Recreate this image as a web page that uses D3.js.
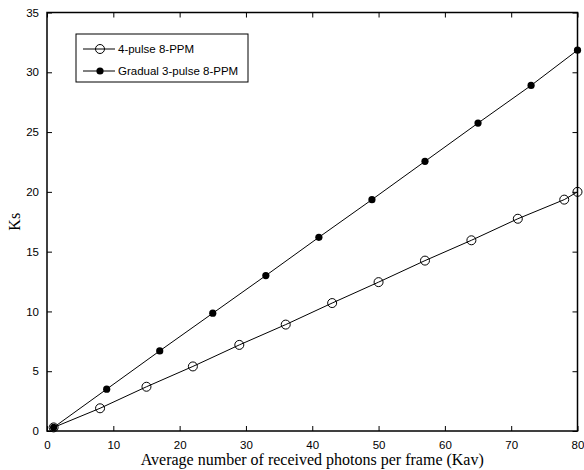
<!DOCTYPE html>
<html>
<head>
<meta charset="utf-8">
<script src="https://cdn.jsdelivr.net/npm/d3@7"></script>
<style>
  body { margin: 0; background: #fff; }
  svg { display: block; }
</style>
</head>
<body>
<div class="chart"></div>
<script>
// data

var openX = [1, 8, 15, 22, 29, 36, 43, 50, 57, 64, 71, 78, 80];
var openY = [0.3, 1.9, 3.7, 5.4, 7.2, 8.9, 10.7, 12.45, 14.25, 15.95, 17.75, 19.35, 20.0];

var filledX = [1, 9, 17, 25, 33, 41, 49, 57, 65, 73, 80];
var filledY = [0.3, 3.5, 6.7, 9.85, 13.0, 16.2, 19.35, 22.55, 25.75, 28.9, 31.85];

var xTicks = [0, 10, 20, 30, 40, 50, 60, 70, 80];
var yTicks = [0, 5, 10, 15, 20, 25, 30, 35];

var seriesNames = ['4-pulse 8-PPM', 'Gradual 3-pulse 8-PPM'];

// LAYOUT

var width = 584, height = 470;
var margin = {top: 12.5, right: 6.5, bottom: 39, left: 47};
var innerW = width - margin.left - margin.right;
var innerH = height - margin.top - margin.bottom;

var svg = d3.select('.chart')
  .append('svg')
  .attr('width', width)
  .attr('height', height);

var g = svg.append('g')
  .attr('transform', 'translate(' + margin.left + ',' + margin.top + ')');

var x = d3.scaleLinear().domain([0, 80]).range([0, innerW]);
var y = d3.scaleLinear().domain([0, 35]).range([innerH, 0]);

// AXES (ticks point inward, mirrored on top and right)

var tickFont = '"Liberation Sans", Arial, sans-serif';

var styleAxis = function(sel){
  sel.select('.domain').remove();
  sel.selectAll('line').attr('stroke', '#000').attr('stroke-width', 1);
  sel.selectAll('text')
    .style('font-family', tickFont)
    .style('font-size', '11.5px')
    .attr('fill', '#000');
}

g.append('g')
  .attr('transform', 'translate(0,' + innerH + ')')
  .call(d3.axisBottom(x).tickValues(xTicks).tickSize(-5).tickPadding(10).tickFormat(d3.format('d')))
  .call(styleAxis);

g.append('g')
  .call(d3.axisLeft(y).tickValues(yTicks).tickSize(-5).tickPadding(8).tickFormat(d3.format('d')))
  .call(styleAxis);

g.append('g')
  .call(d3.axisTop(x).tickValues(xTicks).tickSize(-5).tickFormat(''))
  .call(styleAxis);

g.append('g')
  .attr('transform', 'translate(' + innerW + ',0)')
  .call(d3.axisRight(y).tickValues(yTicks).tickSize(-5).tickFormat(''))
  .call(styleAxis);

g.append('rect')
  .attr('width', innerW)
  .attr('height', innerH)
  .attr('fill', 'none')
  .attr('stroke', '#000')
  .attr('stroke-width', 1.5);

// LINES + MARKERS

var line = d3.line()
  .x(function(d){ return x(d[0]); })
  .y(function(d){ return y(d[1]); });

var openData = d3.zip(openX, openY);
var filledData = d3.zip(filledX, filledY);

g.append('path')
  .datum(openData)
  .attr('d', line)
  .attr('fill', 'none')
  .attr('stroke', '#000')
  .attr('stroke-width', 1);

g.append('path')
  .datum(filledData)
  .attr('d', line)
  .attr('fill', 'none')
  .attr('stroke', '#000')
  .attr('stroke-width', 1);

g.selectAll('.open')
  .data(openData)
  .enter()
  .append('circle')
  .attr('class', 'open')
  .attr('cx', function(d){ return x(d[0]); })
  .attr('cy', function(d){ return y(d[1]); })
  .attr('r', 4.5)
  .attr('fill', 'none')
  .attr('stroke', '#000')
  .attr('stroke-width', 1);

g.selectAll('.filled')
  .data(filledData)
  .enter()
  .append('circle')
  .attr('class', 'filled')
  .attr('cx', function(d){ return x(d[0]); })
  .attr('cy', function(d){ return y(d[1]); })
  .attr('r', 3.6)
  .attr('fill', '#000');

// LEGEND

var legend = svg.append('g').attr('transform', 'translate(76,34)');

legend.append('rect')
  .attr('width', 172)
  .attr('height', 48)
  .attr('fill', '#fff')
  .attr('stroke', '#000')
  .attr('stroke-width', 1);

seriesNames.forEach(function(name, i){
  var row = legend.append('g').attr('transform', 'translate(0,' + (15 + i * 22) + ')');
  row.append('line')
    .attr('x1', 7).attr('x2', 39)
    .attr('stroke', '#000').attr('stroke-width', 1);
  row.append('circle')
    .attr('cx', 24)
    .attr('r', i === 0 ? 4.5 : 3.6)
    .attr('fill', i === 0 ? 'none' : '#000')
    .attr('stroke', i === 0 ? '#000' : 'none');
  row.append('text')
    .attr('x', 42)
    .attr('dy', '0.35em')
    .style('font-family', tickFont)
    .style('font-size', '11.5px')
    .text(name);
});

// AXIS LABELS

svg.append('text')
  .attr('x', margin.left + innerW / 2)
  .attr('y', 465)
  .attr('text-anchor', 'middle')
  .style('font-family', '"Liberation Serif", "Times New Roman", serif')
  .style('font-size', '16px')
  .text('Average number of received photons per frame (Kav)');

svg.append('text')
  .attr('transform', 'translate(20,' + (margin.top + innerH / 2) + ') rotate(-90)')
  .attr('text-anchor', 'middle')
  .style('font-family', '"Liberation Serif", "Times New Roman", serif')
  .style('font-size', '16px')
  .text('Ks');
</script>
</body>
</html>
